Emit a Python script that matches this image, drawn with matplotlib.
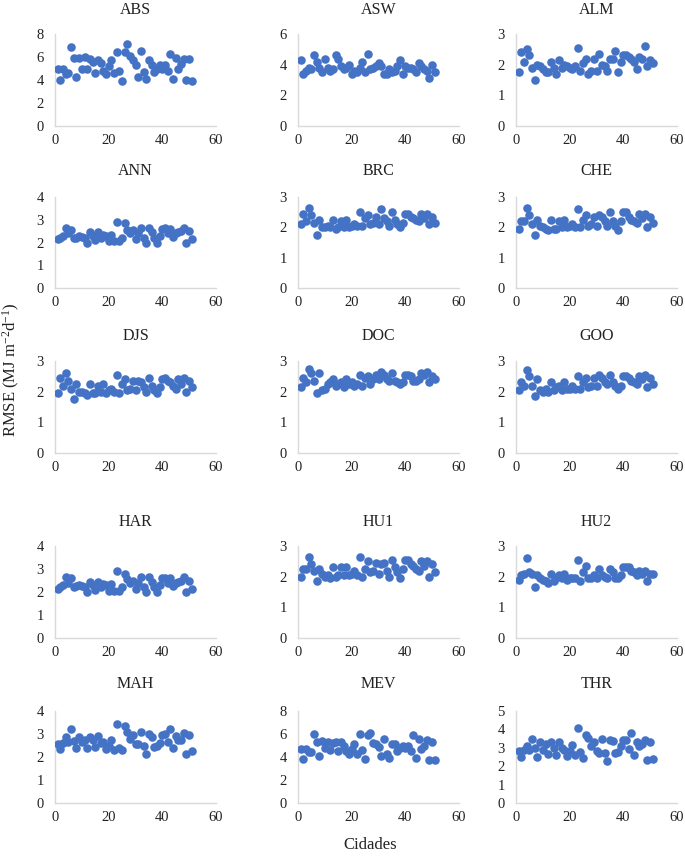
import matplotlib
matplotlib.use("Agg")
import matplotlib.pyplot as plt
import numpy as np

plt.rcParams['font.family'] = ['Liberation Serif', 'DejaVu Serif']
plt.rcParams['mathtext.default'] = 'regular'

x_cities = list(range(1, 52))

names = ["ABS", "ASW", "ALM", "ANN", "BRC", "CHE", "DJS", "DOC", "GOO",
         "HAR", "HU1", "HU2", "MAH", "MEV", "THR"]
ymax = [8, 6, 3, 4, 3, 3, 3, 3, 3, 4, 3, 3, 4, 8, 5]
ystep = [2, 2, 1, 1, 1, 1, 1, 1, 1, 1, 1, 1, 1, 2, 1]

ABS = [5.0, 4.0, 5.0, 4.5, 4.6, 6.9, 5.9, 4.3, 5.9, 5.0, 6.0, 5.0, 5.8, 5.6, 4.6, 5.7, 5.5,
       4.8, 4.5, 5.2, 5.7, 4.6, 6.4, 4.8, 3.9, 6.4, 7.1, 6.1, 5.7, 5.3, 4.3, 6.5, 4.7, 4.1,
       5.7, 5.3, 4.7, 5.0, 5.3, 5.0, 5.3, 4.8, 6.3, 4.1, 5.9, 5.0, 5.4, 5.8, 4.0, 5.8, 3.9]
ASW = [4.3, 3.4, 3.6, 3.8, 3.7, 4.6, 4.2, 3.8, 3.5, 4.4, 3.8, 3.6, 3.7, 4.6, 4.4, 3.9, 3.7,
       3.8, 4.0, 3.4, 3.6, 3.5, 3.8, 4.2, 3.5, 4.7, 3.7, 3.8, 3.9, 4.1, 3.9, 3.4, 3.4, 3.7,
       3.5, 3.6, 3.9, 4.3, 3.4, 3.9, 3.8, 3.8, 3.7, 3.5, 4.1, 3.9, 3.7, 3.6, 3.1, 4.0, 3.5]
ALM = [1.75, 2.4, 2.1, 2.5, 2.3, 1.9, 1.5, 2.0, 1.95, 1.85, 1.75, 1.75, 2.1, 1.9, 1.7, 2.15,
       1.9, 2.0, 1.95, 1.9, 1.85, 1.95, 2.55, 1.8, 2.05, 2.2, 1.7, 1.8, 2.2, 1.8, 2.35, 2.0,
       1.95, 1.8, 2.2, 2.2, 2.45, 1.75, 2.1, 2.3, 2.3, 2.25, 2.2, 2.1, 1.85, 2.25, 2.2, 2.6,
       1.95, 2.15, 2.05]
ANN = [2.15, 2.2, 2.3, 2.65, 2.4, 2.55, 2.2, 2.2, 2.3, 2.25, 2.2, 2.0, 2.45, 2.3, 2.1, 2.45,
       2.2, 2.35, 2.3, 2.05, 2.35, 2.05, 2.9, 2.05, 2.2, 2.85, 2.55, 2.4, 2.55, 2.15, 2.4, 2.65,
       2.2, 2.0, 2.65, 2.45, 2.2, 2.0, 2.3, 2.6, 2.65, 2.4, 2.6, 2.25, 2.4, 2.45, 2.5, 2.65,
       2.0, 2.5, 2.15]
BRC = [2.1, 2.45, 2.2, 2.65, 2.4, 2.15, 1.75, 2.25, 2.0, 2.0, 2.05, 2.0, 2.25, 1.95, 2.0, 2.2,
       2.0, 2.25, 2.0, 2.05, 2.1, 2.05, 2.5, 2.05, 2.3, 2.4, 2.1, 2.15, 2.35, 2.1, 2.6, 2.3,
       2.2, 2.05, 2.5, 2.25, 2.1, 2.0, 2.15, 2.45, 2.45, 2.35, 2.3, 2.25, 2.2, 2.45, 2.3, 2.45,
       2.1, 2.35, 2.15]
CHE = [1.95, 2.2, 2.2, 2.65, 2.4, 2.1, 1.75, 2.25, 2.05, 2.0, 1.95, 1.9, 2.25, 1.95, 1.95, 2.2,
       2.0, 2.25, 2.0, 2.05, 2.1, 2.0, 2.6, 2.0, 2.25, 2.4, 2.05, 2.1, 2.35, 2.05, 2.4, 2.35,
       2.2, 2.05, 2.5, 2.2, 2.05, 1.9, 2.2, 2.5, 2.5, 2.35, 2.25, 2.2, 2.15, 2.45, 2.3, 2.45,
       2.0, 2.35, 2.15]
DJS = [1.95, 2.45, 2.2, 2.6, 2.35, 2.1, 1.75, 2.25, 2.0, 2.0, 1.95, 1.9, 2.25, 1.95, 1.95, 2.2,
       2.0, 2.25, 1.95, 2.05, 2.1, 2.0, 2.55, 1.95, 2.25, 2.4, 2.05, 2.1, 2.35, 2.05, 2.35, 2.3,
       2.15, 2.0, 2.45, 2.2, 2.05, 1.95, 2.15, 2.4, 2.45, 2.35, 2.3, 2.2, 2.1, 2.4, 2.25, 2.45,
       2.0, 2.35, 2.15]
DOC = [2.15, 2.45, 2.3, 2.75, 2.6, 2.35, 1.95, 2.6, 2.05, 2.1, 2.25, 2.3, 2.4, 2.2, 2.25, 2.3,
       2.15, 2.4, 2.25, 2.3, 2.2, 2.25, 2.55, 2.2, 2.45, 2.5, 2.25, 2.4, 2.55, 2.4, 2.65, 2.55,
       2.4, 2.35, 2.6, 2.35, 2.3, 2.25, 2.3, 2.55, 2.55, 2.5, 2.35, 2.35, 2.4, 2.6, 2.55, 2.65,
       2.3, 2.5, 2.4]
GOO = [2.05, 2.3, 2.2, 2.7, 2.5, 2.2, 1.85, 2.4, 2.05, 2.0, 2.1, 2.0, 2.3, 2.05, 2.15, 2.2,
       2.05, 2.3, 2.1, 2.1, 2.2, 2.1, 2.5, 2.1, 2.3, 2.45, 2.15, 2.2, 2.45, 2.2, 2.55, 2.45,
       2.3, 2.25, 2.55, 2.3, 2.2, 2.1, 2.2, 2.5, 2.5, 2.45, 2.35, 2.3, 2.25, 2.5, 2.4, 2.55,
       2.15, 2.45, 2.25]
HAR = [2.15, 2.2, 2.3, 2.65, 2.4, 2.6, 2.2, 2.25, 2.3, 2.25, 2.2, 2.0, 2.45, 2.3, 2.1, 2.45,
       2.2, 2.35, 2.3, 2.05, 2.35, 2.05, 2.9, 2.05, 2.2, 2.8, 2.55, 2.4, 2.5, 2.15, 2.4, 2.65,
       2.2, 2.0, 2.65, 2.45, 2.2, 2.0, 2.3, 2.6, 2.6, 2.4, 2.6, 2.25, 2.4, 2.45, 2.5, 2.65,
       2.0, 2.5, 2.15]
HU1 = [2.0, 2.25, 2.25, 2.65, 2.4, 2.2, 1.85, 2.25, 2.1, 2.0, 2.05, 1.95, 2.3, 2.0, 2.05, 2.3,
       2.05, 2.3, 2.05, 2.1, 2.2, 2.05, 2.65, 2.0, 2.25, 2.5, 2.15, 2.2, 2.45, 2.1, 2.4, 2.45,
       2.2, 2.0, 2.55, 2.3, 2.15, 1.95, 2.25, 2.55, 2.55, 2.4, 2.35, 2.25, 2.2, 2.5, 2.35, 2.5,
       2.0, 2.4, 2.15]
HU2 = [1.9, 2.05, 2.1, 2.6, 2.15, 2.1, 1.65, 2.05, 1.95, 1.9, 1.85, 1.8, 2.1, 1.85, 1.95, 2.05,
       1.95, 2.1, 1.9, 1.95, 1.95, 1.95, 2.55, 1.85, 2.15, 2.35, 1.95, 1.95, 2.05, 1.95, 2.25,
       2.05, 2.0, 1.95, 2.25, 2.15, 1.95, 1.95, 2.05, 2.3, 2.3, 2.3, 2.2, 2.15, 2.05, 2.2, 2.1,
       2.2, 1.85, 2.1, 2.1]
MAH = [2.55, 2.35, 2.6, 2.85, 2.65, 3.2, 2.7, 2.4, 2.85, 2.65, 2.75, 2.4, 2.85, 2.75, 2.45,
       2.9, 2.6, 2.65, 2.35, 2.5, 2.75, 2.3, 3.45, 2.4, 2.3, 3.35, 3.1, 2.8, 2.95, 2.55, 2.55,
       3.1, 2.5, 2.15, 3.0, 2.85, 2.45, 2.5, 2.6, 2.95, 3.0, 2.65, 3.2, 2.4, 2.9, 2.75, 2.75,
       3.05, 2.15, 2.95, 2.25]
MEV = [4.7, 3.8, 4.7, 4.4, 4.4, 6.0, 5.3, 4.1, 5.4, 4.8, 5.3, 4.6, 5.2, 5.3, 4.5, 5.3, 5.0,
       4.5, 4.3, 4.7, 5.1, 4.3, 6.0, 4.6, 3.8, 5.9, 6.1, 5.2, 5.1, 4.9, 4.1, 5.6, 4.3, 3.9,
       5.1, 5.1, 4.5, 4.8, 5.0, 4.8, 5.0, 4.5, 5.9, 3.9, 5.6, 4.7, 5.0, 5.5, 3.7, 5.3, 3.7]
THR = [2.8, 2.5, 2.9, 3.1, 2.9, 3.5, 3.0, 2.5, 3.3, 2.9, 3.2, 2.65, 3.3, 3.0, 2.6, 3.3, 3.0,
       2.9, 2.55, 2.8, 3.15, 2.6, 4.05, 2.75, 2.45, 3.7, 3.55, 3.1, 3.3, 2.85, 2.7, 3.5, 2.7,
       2.3, 3.4, 3.35, 2.7, 2.75, 3.1, 3.4, 3.45, 2.95, 3.8, 2.6, 3.3, 3.1, 3.2, 3.45, 2.35,
       3.3, 2.4]

series = [ABS, ASW, ALM, ANN, BRC, CHE, DJS, DOC, GOO, HAR, HU1, HU2, MAH, MEV, THR]

W, H = 685, 856
fig = plt.figure(figsize=(W / 100, H / 100), dpi=100)

col_left = [55, 298, 516]
ax_w = 161
row_top = [34, 197, 361, 546, 711]
row_bot = [126, 288, 453, 638, 803]
title_y = [10, 171, 336, 522, 684]

marker_color = "#4472C4"
spine_color = "#d9d9d9"

for i, (name, vals) in enumerate(zip(names, series)):
    r, c = divmod(i, 3)
    left = col_left[c] / W
    bottom = 1 - row_bot[r] / H
    height = (row_bot[r] - row_top[r]) / H
    ax = fig.add_axes([left, bottom, ax_w / W, height])
    ax.scatter(x_cities, vals, s=38, color=marker_color, linewidths=0, zorder=3)
    ax.set_xlim(0, 60)
    ax.set_ylim(0, ymax[i])
    ax.set_xticks([0, 20, 40, 60])
    ax.set_yticks(np.arange(0, ymax[i] + 0.01, ystep[i]))
    ax.set_yticklabels([str(int(v)) for v in np.arange(0, ymax[i] + 0.01, ystep[i])])
    for s in ["top", "right"]:
        ax.spines[s].set_visible(False)
    for s in ["left", "bottom"]:
        ax.spines[s].set_color(spine_color)
        ax.spines[s].set_linewidth(1.0)
    ax.tick_params(axis="both", length=0, labelsize=10.5, colors="#222222")
    ax.tick_params(axis="y", pad=8)
    ax.tick_params(axis="x", pad=6)
    ax.patch.set_alpha(0)
    fig.text((col_left[c] + ax_w / 2) / W, 1 - title_y[r] / H, name,
             ha="center", va="center", fontsize=11.5, color="#222222")

fig.text(11 / W, 1 - 370 / H, "RMSE (MJ m$^{-2}$d$^{-1}$)", rotation=90,
         ha="center", va="center", fontsize=12, color="#222222")
fig.text(370 / W, 1 - 845 / H, "Cidades", ha="center", va="center",
         fontsize=12, color="#222222")

fig.savefig("out.png", dpi=100)
